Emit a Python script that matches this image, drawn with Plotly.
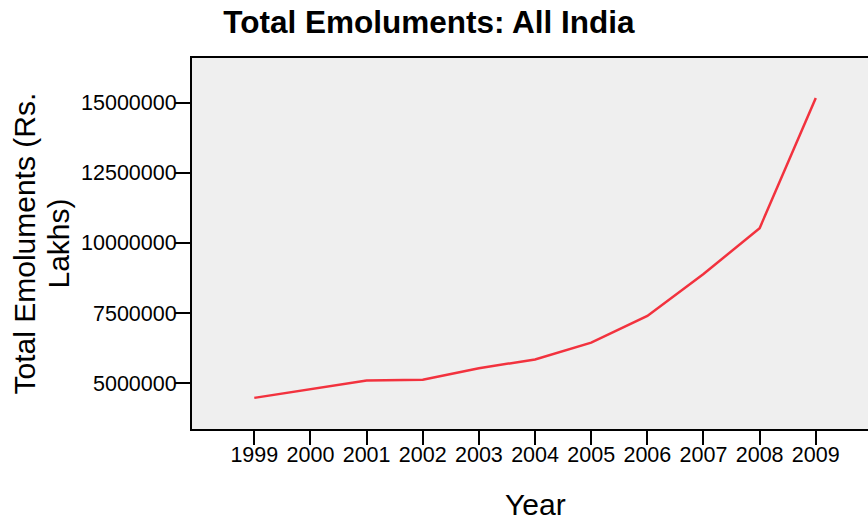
import plotly.graph_objects as go

# Total emoluments, all India (Rs. lakhs)
years = [1999, 2000, 2001, 2002, 2003, 2004, 2005, 2006, 2007, 2008, 2009]
emoluments = [4477000, 4800000, 5097000, 5122000, 5533000, 5848000,
              6446000, 7398000, 8890000, 10526000, 15164000]
y_ticks = [5000000, 7500000, 10000000, 12500000, 15000000]

W, H = 868, 522
M_L, M_R, M_T, M_B = 192, 0, 58, 93
plot_w = W - M_L - M_R

FONT = "Liberation Sans, Arial, sans-serif"

fig = go.Figure()
fig.add_trace(go.Scatter(
    x=years, y=emoluments, mode="lines",
    line=dict(color="#F2323E", width=2.5),
    hoverinfo="x+y", showlegend=False,
))


def px_to_xpaper(px):
    return (px - M_L) / plot_w


fig.update_layout(
    width=W, height=H,
    margin=dict(l=M_L, r=M_R, t=M_T, b=M_B, pad=0),
    paper_bgcolor="white",
    plot_bgcolor="#EFEFEF",
    font=dict(family=FONT, color="black"),
    title=dict(
        text="<b>Total Emoluments: All India</b>",
        font=dict(size=31.5, family=FONT, color="black"),
        xref="container", x=429 / W, xanchor="center",
        yref="container", y=1 - 21.5 / H, yanchor="middle",
    ),
    xaxis=dict(
        range=[1997.89, 2009.93],
        tickmode="array", tickvals=years, ticktext=[str(y) for y in years],
        ticks="outside", ticklen=14, tickwidth=2, tickcolor="black",
        showline=True, linecolor="black", linewidth=2, mirror=True,
        showgrid=False, zeroline=False,
        ticklabelstandoff=-9,
        tickfont=dict(size=21.5, family=FONT, color="black"),
    ),
    yaxis=dict(
        range=[3368000, 16590000],
        tickmode="array", tickvals=y_ticks, ticktext=[str(v) for v in y_ticks],
        ticks="outside", ticklen=15, tickwidth=2, tickcolor="black",
        showline=True, linecolor="black", linewidth=2,
        showgrid=False, zeroline=False,
        ticklabelstandoff=-6,
        tickfont=dict(size=21.5, family=FONT, color="black"),
    ),
)

# Axis titles
fig.add_annotation(
    text="Year", xref="x", x=2004, yref="paper", y=-(504 - (H - M_B)) / (H - M_T - M_B),
    xanchor="center", yanchor="middle", showarrow=False,
    font=dict(size=30, family=FONT, color="black"),
)
for label, px in [("Total Emoluments (Rs.", 24), ("Lakhs)", 58)]:
    fig.add_annotation(
        text=label, textangle=-90,
        xref="paper", x=px_to_xpaper(px), yref="paper", y=0.5,
        xanchor="center", yanchor="middle", showarrow=False,
        font=dict(size=30, family=FONT, color="black"),
    )

fig.write_html("out.html")
